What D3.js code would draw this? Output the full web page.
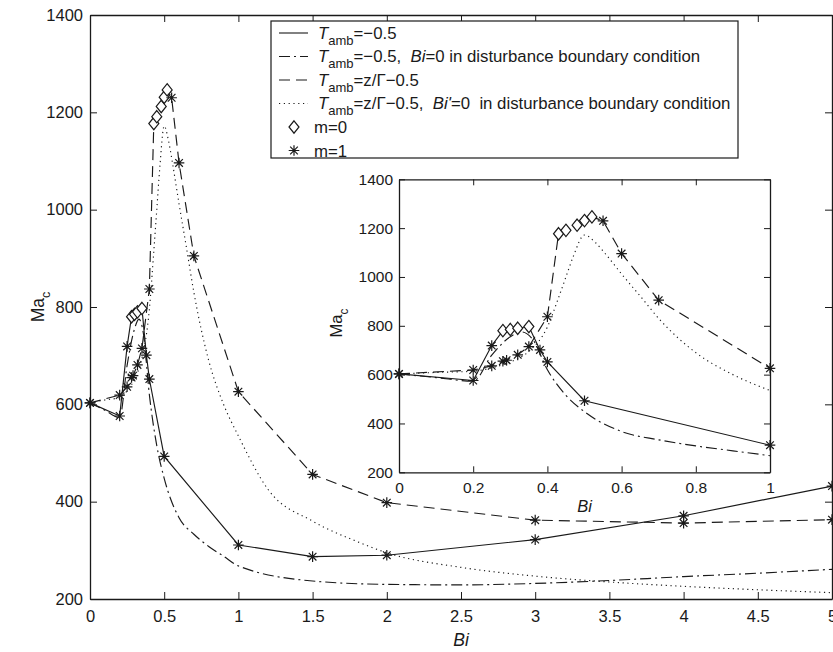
<!DOCTYPE html>
<meta charset="utf-8">
<title>Ma_c vs Bi</title>
<script src="https://d3js.org/d3.v7.min.js"></script>
<style>
  body { margin: 0; background: #fff; }
  svg { font-family: "Liberation Sans", Arial, sans-serif; }
</style>
<body>
<div id="plot"></div>
<script>
// T_amb = -0.5 (solid, with markers)
var biSolid = [0, 0.2, 0.25, 0.28, 0.30, 0.32, 0.35, 0.38, 0.4, 0.5, 1, 1.5, 2, 3, 4, 5];
var maSolid = [603, 576, 719, 780, 785, 790, 797, 701, 652, 493, 311, 287, 290, 322, 371, 432];
var mSolid  = [1, 1, 1, 0, 0, 0, 0, 1, 1, 1, 1, 1, 1, 1, 1, 1];

// T_amb = z/Gamma - 0.5 (dashed, with markers)
var biDashed = [0, 0.2, 0.25, 0.28, 0.29, 0.32, 0.35, 0.4, 0.43, 0.45, 0.48, 0.5, 0.52, 0.55, 0.6, 0.7, 1, 1.5, 2, 3, 4, 5];
var maDashed = [603, 619, 636, 655, 659, 681, 715, 837, 1177, 1191, 1212, 1231, 1246, 1230, 1096, 905, 626, 456, 398, 362, 356, 363];
var mDashed  = [1, 1, 1, 1, 1, 1, 1, 1, 0, 0, 0, 0, 0, 1, 1, 1, 1, 1, 1, 1, 1, 1];

// T_amb = -0.5, Bi=0 in disturbance BC (dash-dot)
var biDashDot = [0, 0.1, 0.2, 0.25, 0.3, 0.33, 0.36, 0.4, 0.45, 0.5, 0.6, 0.7, 0.8, 0.9, 1, 1.5, 2, 2.5, 3, 3.5, 4, 4.5, 5];
var maDashDot = [603, 588, 573, 680, 755, 775, 745, 620, 515, 448, 367, 333, 308, 288, 268, 237, 230, 229, 232, 238, 246, 253, 261];

// T_amb = z/Gamma - 0.5, Bi'=0 in disturbance BC (dotted)
var biDotted = [0, 0.1, 0.2, 0.25, 0.3, 0.35, 0.4, 0.43, 0.45, 0.47, 0.5, 0.53, 0.56, 0.6, 0.65, 0.7, 0.8, 0.9, 1, 1.2, 1.5, 1.8, 2, 2.5, 3, 3.5, 4, 4.5, 5];
var maDotted = [603, 609, 614, 628, 652, 695, 795, 915, 1000, 1085, 1172, 1140, 1088, 1012, 922, 830, 690, 600, 535, 425, 360, 318, 295, 265, 247, 235, 226, 219, 213];

var xTicksMain = [0, 0.5, 1, 1.5, 2, 2.5, 3, 3.5, 4, 4.5, 5];
var xTicksInset = [0, 0.2, 0.4, 0.6, 0.8, 1];
var yTicks = [200, 400, 600, 800, 1000, 1200, 1400];

var ink = "#1a1a1a";
var W = 833, H = 652;

var svg = d3.select("#plot").append("svg")
    .attr("width", W).attr("height", H);
svg.append("rect").attr("width", W).attr("height", H).attr("fill", "#fff");

var styles = {
  solid:   null,
  dashed:  "11,6",
  dashdot: "11,4,2,4",
  dotted:  "1.2,3.6"
};

function starPath(r) {
  var a = r * 0.72;
  return "M" + (-r) + ",0L" + r + ",0M0," + (-r) + "L0," + r +
         "M" + (-a) + "," + (-a) + "L" + a + "," + a +
         "M" + (-a) + "," + a + "L" + a + "," + (-a);
}
function diamondPath(w, h) {
  return "M0," + (-h) + "L" + w + ",0L0," + h + "L" + (-w) + ",0Z";
}

function drawPanel(g, x, y, opts) {
  // white backdrop
  g.append("rect")
    .attr("x", x.range()[0]).attr("y", y.range()[1])
    .attr("width", x.range()[1] - x.range()[0])
    .attr("height", y.range()[0] - y.range()[1])
    .attr("fill", "#fff");

  var fmt = function (d) { return d3.format("")(d); };
  var ts = opts.tick;

  var axB = g.append("g").attr("transform", "translate(0," + y.range()[0] + ")")
    .call(d3.axisBottom(x).tickValues(opts.xTicks).tickFormat(fmt)
      .tickSizeInner(-ts).tickSizeOuter(0).tickPadding(opts.xPad));
  var axT = g.append("g").attr("transform", "translate(0," + y.range()[1] + ")")
    .call(d3.axisTop(x).tickValues(opts.xTicks).tickFormat("")
      .tickSizeInner(-ts).tickSizeOuter(0));
  var axL = g.append("g").attr("transform", "translate(" + x.range()[0] + ",0)")
    .call(d3.axisLeft(y).tickValues(yTicks).tickFormat(fmt)
      .tickSizeInner(-ts).tickSizeOuter(0).tickPadding(opts.yPad));
  var axR = g.append("g").attr("transform", "translate(" + x.range()[1] + ",0)")
    .call(d3.axisRight(y).tickValues(yTicks).tickFormat("")
      .tickSizeInner(-ts).tickSizeOuter(0));

  [axB, axT, axL, axR].forEach(function (a) {
    a.selectAll("path.domain").attr("stroke", ink).attr("stroke-width", 1.3);
    a.selectAll(".tick line").attr("stroke", ink).attr("stroke-width", 1);
    a.selectAll("text").attr("fill", ink)
      .attr("font-family", "Liberation Sans, Arial, sans-serif")
      .attr("font-size", opts.fs);
  });

  var xmax = x.domain()[1];
  var line = d3.line().x(function (d) { return x(d[0]); }).y(function (d) { return y(d[1]); });
  var smooth = d3.line().curve(d3.curveMonotoneX)
    .x(function (d) { return x(d[0]); }).y(function (d) { return y(d[1]); });
  function pts(bi, ma) {
    return d3.zip(bi, ma).filter(function (p) { return p[0] <= xmax + 1e-9; });
  }

  var curves = [
    { p: pts(biDotted, maDotted), gen: smooth, dash: styles.dotted },
    { p: pts(biDashDot, maDashDot), gen: smooth, dash: styles.dashdot },
    { p: pts(biDashed, maDashed), gen: line, dash: styles.dashed },
    { p: pts(biSolid, maSolid), gen: line, dash: styles.solid }
  ];
  curves.forEach(function (c) {
    g.append("path").attr("d", c.gen(c.p))
      .attr("fill", "none").attr("stroke", ink).attr("stroke-width", 1.15)
      .attr("stroke-dasharray", c.dash);
  });

  var marks = [];
  [[biSolid, maSolid, mSolid], [biDashed, maDashed, mDashed]].forEach(function (s) {
    s[0].forEach(function (b, i) {
      if (b <= xmax + 1e-9) marks.push({ bi: b, ma: s[1][i], m: s[2][i] });
    });
  });
  g.append("g").selectAll("path")
    .data(marks)
    .enter()
    .append("path")
    .attr("transform", function (d) { return "translate(" + x(d.bi) + "," + y(d.ma) + ")"; })
    .attr("d", function (d) { return d.m === 0 ? diamondPath(5, 6.2) : starPath(5.3); })
    .attr("fill", function (d) { return d.m === 0 ? "#fff" : "none"; })
    .attr("stroke", ink).attr("stroke-width", 1.2);

  // labels
  g.append("text")
    .attr("x", (x.range()[0] + x.range()[1]) / 2).attr("y", opts.xlabY)
    .attr("text-anchor", "middle").attr("font-size", opts.lfs)
    .attr("font-style", "italic").attr("fill", ink)
    .text("Bi");
  var yl = g.append("text")
    .attr("transform", "translate(" + opts.ylabX + "," + opts.ylabY + ") rotate(-90)")
    .attr("text-anchor", "middle").attr("font-size", opts.lfs).attr("fill", ink);
  yl.append("tspan").text("Ma");
  yl.append("tspan").attr("dy", opts.lfs * 0.35).attr("font-size", opts.lfs * 0.72).text("c");
}

// main axes
var xMain = d3.scaleLinear().domain([0, 5]).range([90, 832]);
var yMain = d3.scaleLinear().domain([200, 1400]).range([599, 15]);
drawPanel(svg.append("g"), xMain, yMain, {
  xTicks: xTicksMain, tick: 7, xPad: 11, yPad: 7, fs: 16.5, lfs: 17.5,
  xlabY: 646, ylabX: 44, ylabY: 307
});

// legend
var lg = svg.append("g");
lg.append("rect").attr("x", 271).attr("y", 21).attr("width", 467).attr("height", 137)
  .attr("fill", "#fff").attr("stroke", ink).attr("stroke-width", 1.2);

var rowY = [33, 56.5, 80, 103.5, 127, 150.5];
var lineRows = [
  { dash: styles.solid,   tail: [["=\u22120.5", false]] },
  { dash: styles.dashdot, tail: [["=\u22120.5,  ", false], ["Bi", true], ["=0 in disturbance boundary condition", false]] },
  { dash: styles.dashed,  tail: [["=z/\u0393\u22120.5", false]] },
  { dash: styles.dotted,  tail: [["=z/\u0393\u22120.5,  ", false], ["Bi'", true], ["=0  in disturbance boundary condition", false]] }
];
var lfs = 16.8;
lineRows.forEach(function (r, i) {
  var cy = rowY[i];
  lg.append("line").attr("x1", 279).attr("x2", 308).attr("y1", cy).attr("y2", cy)
    .attr("stroke", ink).attr("stroke-width", 1.1).attr("stroke-dasharray", r.dash);
  var t = lg.append("text").attr("x", 318).attr("y", cy + 5.5)
    .attr("font-size", lfs).attr("fill", ink).attr("xml:space", "preserve");
  t.append("tspan").attr("font-style", "italic").text("T");
  t.append("tspan").attr("dy", 6).attr("font-size", 13).text("amb");
  r.tail.forEach(function (p, k) {
    var s = t.append("tspan").text(p[0]).style("white-space", "pre");
    if (k === 0) s.attr("dy", -6);
    if (p[1]) s.attr("font-style", "italic");
  });
});
[["m=0", 0], ["m=1", 1]].forEach(function (r, i) {
  var cy = rowY[4 + i];
  lg.append("path").attr("transform", "translate(294," + cy + ")")
    .attr("d", r[1] === 0 ? diamondPath(5, 6.2) : starPath(5.3))
    .attr("fill", "none").attr("stroke", ink).attr("stroke-width", 1.2);
  lg.append("text").attr("x", 314).attr("y", cy + 6)
    .attr("font-size", lfs).attr("fill", ink).text(r[0]);
});

// inset axes
var xIn = d3.scaleLinear().domain([0, 1]).range([399, 770]);
var yIn = d3.scaleLinear().domain([200, 1400]).range([472.3, 179.3]);
drawPanel(svg.append("g"), xIn, yIn, {
  xTicks: xTicksInset, tick: 6, xPad: 10, yPad: 6, fs: 15.5, lfs: 16.5,
  xlabY: 512, ylabX: 342, ylabY: 323
});
</script>
</body>
